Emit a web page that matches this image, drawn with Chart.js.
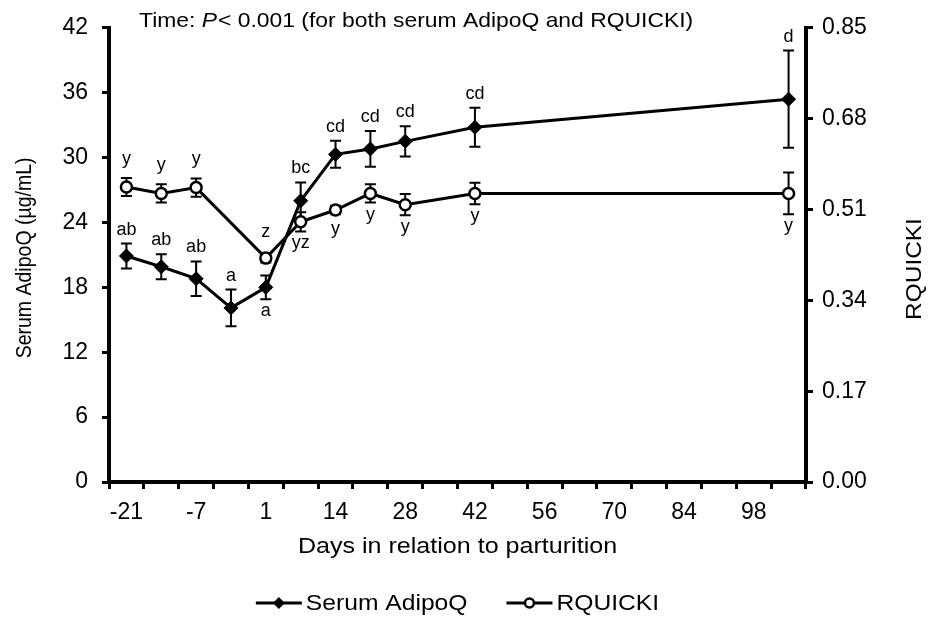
<!DOCTYPE html>
<html>
<head>
<meta charset="utf-8">
<script src="https://cdn.jsdelivr.net/npm/chart.js@4.4.1/dist/chart.umd.min.js"></script>
<style>
  html, body { margin: 0; padding: 0; background: #fff; }
  #wrap { width: 931px; height: 618px; }
</style>
</head>
<body>
<div id="wrap"><canvas id="chart" width="931" height="618"></canvas></div>
<script>
// ----------------- DATA -----------------
// category axis, one slot per week (only every 2nd label is shown)
const dayLabels = ['-21', '-14', '-7', '-3', '1', '7', '14', '21', '28', '35',
                   '42', '49', '56', '63', '70', '77', '84', '91', '98', '105'];

const adipoq      = [20.9, 19.9, 18.8, 16.1, 18.0, 26.0, 30.3, 30.8, 31.5, null,
                     32.8, null, null, null, null, null, null, null, null, 35.4];
const adipoqErr   = [1.15, 1.15, 1.6, 1.7, 1.1, 1.7, 1.25, 1.65, 1.4, null,
                     1.8, null, null, null, null, null, null, null, null, 4.5];
const adipoqLetters = ['ab', 'ab', 'ab', 'a', 'a', 'bc', 'cd', 'cd', 'cd', null,
                       'cd', null, null, null, null, null, null, null, null, 'd'];

const rquicki     = [0.552, 0.540, 0.551, null, 0.419, 0.487, 0.509, 0.540, 0.519, null,
                     0.540, null, null, null, null, null, null, null, null, 0.540];
const rquickiErr  = [0.017, 0.017, 0.017, null, 0.008, 0.018, 0.008, 0.017, 0.020, null,
                     0.020, null, null, null, null, null, null, null, null, 0.039];
const rquickiLetters = ['y', 'y', 'y', null, 'z', 'yz', 'y', 'y', 'y', null,
                        'y', null, null, null, null, null, null, null, null, 'y'];

const adipoqTicks = [0, 6, 12, 18, 24, 30, 36, 42];
const rquickiTicks = [0, 0.17, 0.34, 0.51, 0.68, 0.85];

// which letters go under the point instead of above
const adipoqBelow = [4];
const rquickiBelow = [5, 6, 7, 8, 10, 19];

// ----------------- STYLE -----------------
const FONT = "'Liberation Sans', Arial, sans-serif";
const INK = '#000';
const SX = 1.12; // the original figure is a bit wider than tall, text too

// ----------------- HELPERS -----------------
function stretchText(ctx, text, x, y, sx) {
  ctx.save();
  ctx.translate(x, y);
  ctx.scale(sx, 1);
  ctx.fillText(text, 0, 0);
  ctx.restore();
  return ctx.measureText(text).width * sx;
}

function drawErrorBars(chart, dsIndex, vals, errs) {
  const ctx = chart.ctx;
  const meta = chart.getDatasetMeta(dsIndex);
  const scale = chart.scales[meta.yAxisID];
  ctx.save();
  ctx.strokeStyle = INK;
  ctx.lineWidth = 2;
  meta.data.forEach((pt, i) => {
    if (vals[i] == null || errs[i] == null) return;
    const top = scale.getPixelForValue(vals[i] + errs[i]);
    const bot = scale.getPixelForValue(vals[i] - errs[i]);
    ctx.beginPath();
    ctx.moveTo(pt.x, top); ctx.lineTo(pt.x, bot);
    ctx.moveTo(pt.x - 5.5, top); ctx.lineTo(pt.x + 5.5, top);
    ctx.moveTo(pt.x - 5.5, bot); ctx.lineTo(pt.x + 5.5, bot);
    ctx.stroke();
  });
  ctx.restore();
}

function drawLetters(chart, dsIndex, vals, errs, letters, below, gapAbove) {
  const ctx = chart.ctx;
  const meta = chart.getDatasetMeta(dsIndex);
  const scale = chart.scales[meta.yAxisID];
  ctx.save();
  ctx.fillStyle = INK;
  ctx.font = '18px ' + FONT;
  ctx.textAlign = 'center';
  ctx.textBaseline = 'alphabetic';
  meta.data.forEach((pt, i) => {
    if (!letters[i] || vals[i] == null) return;
    const e = Math.max(Math.abs(scale.getPixelForValue(vals[i] - errs[i]) - pt.y), 7);
    if (below.includes(i)) {
      ctx.fillText(letters[i], pt.x, pt.y + e + 17);
    } else {
      ctx.fillText(letters[i], pt.x, pt.y - e - gapAbove);
    }
  });
  ctx.restore();
}

function drawTitle(ctx) {
  let x = 139;
  const y = 27;
  const sx = 1.09;
  ctx.textAlign = 'left';
  ctx.font = '21px ' + FONT;
  x += stretchText(ctx, 'Time: ', x, y, sx);
  ctx.font = 'italic 21px ' + FONT;
  x += stretchText(ctx, 'P', x, y, sx) + 1;
  ctx.font = '21px ' + FONT;
  stretchText(ctx, '< 0.001 (for both serum AdipoQ and RQUICKI)', x, y, sx);
}

function drawLegend(ctx, cx, y) {
  ctx.font = '22px ' + FONT;
  ctx.textAlign = 'left';
  ctx.textBaseline = 'middle';
  const items = [
    { text: 'Serum AdipoQ', marker: 'diamond' },
    { text: 'RQUICKI', marker: 'circle' }
  ];
  const sample = 46, gap = 4, spacing = 39;
  let total = 0;
  items.forEach((it, i) => {
    total += sample + gap + ctx.measureText(it.text).width * SX + (i ? spacing : 0);
  });
  let x = cx - total / 2;
  items.forEach((it, i) => {
    if (i) x += spacing;
    ctx.strokeStyle = INK;
    ctx.lineWidth = 3;
    ctx.beginPath();
    ctx.moveTo(x, y); ctx.lineTo(x + sample, y);
    ctx.stroke();
    const mx = x + sample / 2;
    if (it.marker === 'diamond') {
      ctx.fillStyle = INK;
      ctx.beginPath();
      ctx.moveTo(mx - 6, y); ctx.lineTo(mx, y - 6);
      ctx.lineTo(mx + 6, y); ctx.lineTo(mx, y + 6);
      ctx.closePath();
      ctx.fill();
    } else {
      ctx.fillStyle = '#fff';
      ctx.lineWidth = 2.5;
      ctx.beginPath();
      ctx.arc(mx, y, 4.5, 0, Math.PI * 2);
      ctx.fill();
      ctx.stroke();
    }
    x += sample + gap;
    ctx.fillStyle = INK;
    x += stretchText(ctx, it.text, x, y + 1, SX);
  });
}

// ----------------- PLUGIN -----------------
const extrasPlugin = {
  id: 'extras',
  beforeDatasetsDraw(chart) {
    drawErrorBars(chart, 0, adipoq, adipoqErr);
    drawErrorBars(chart, 1, rquicki, rquickiErr);
  },
  afterDatasetsDraw(chart) {
    drawLetters(chart, 0, adipoq, adipoqErr, adipoqLetters, adipoqBelow, 9);
    drawLetters(chart, 1, rquicki, rquickiErr, rquickiLetters, rquickiBelow, 14);
  },
  afterDraw(chart) {
    const ctx = chart.ctx;
    const area = chart.chartArea;
    ctx.save();
    ctx.fillStyle = INK;
    ctx.textBaseline = 'alphabetic';
    drawTitle(ctx);

    // x axis title
    ctx.textAlign = 'center';
    ctx.font = '22px ' + FONT;
    stretchText(ctx, 'Days in relation to parturition', (area.left + area.right) / 2, 553, 1.14);

    // left axis title (rotated, so the stretch goes across the glyphs)
    ctx.save();
    ctx.translate(25, (area.top + area.bottom) / 2 + 3);
    ctx.rotate(-Math.PI / 2);
    ctx.scale(1, SX);
    ctx.textBaseline = 'middle';
    ctx.font = '19.5px ' + FONT;
    ctx.fillText('Serum AdipoQ (\u00b5g/mL)', 0, 0);
    ctx.restore();

    // right axis title (reads bottom to top)
    ctx.save();
    ctx.translate(915, 269);
    ctx.rotate(-Math.PI / 2);
    ctx.scale(1.11, 1);
    ctx.textBaseline = 'middle';
    ctx.font = '22px ' + FONT;
    ctx.fillText('RQUICKI', 0, 0);
    ctx.restore();

    drawLegend(ctx, (area.left + area.right) / 2, 603);
    ctx.restore();
  }
};

// ----------------- CHART -----------------
const tickFont = { family: FONT, size: 23 };

new Chart(document.getElementById('chart'), {
  type: 'line',
  data: {
    labels: dayLabels,
    datasets: [
      {
        label: 'Serum AdipoQ',
        data: adipoq,
        yAxisID: 'y',
        borderColor: INK,
        backgroundColor: INK,
        borderWidth: 3,
        pointStyle: 'rectRot',
        pointRadius: 7,
        pointBorderWidth: 1,
        pointBackgroundColor: INK,
        pointBorderColor: INK,
        spanGaps: true,
        tension: 0
      },
      {
        label: 'RQUICKI',
        data: rquicki,
        yAxisID: 'y1',
        borderColor: INK,
        backgroundColor: '#fff',
        borderWidth: 3,
        pointStyle: 'circle',
        pointRadius: 5.5,
        pointBorderWidth: 2.5,
        pointBackgroundColor: '#fff',
        pointBorderColor: INK,
        spanGaps: true,
        tension: 0
      }
    ]
  },
  options: {
    responsive: false,
    animation: false,
    devicePixelRatio: 1,
    layout: { padding: { top: 21, bottom: 86, left: 0, right: 0 } },
    plugins: {
      legend: { display: false },
      tooltip: { enabled: false },
      title: { display: false }
    },
    scales: {
      x: {
        type: 'category',
        offset: true,
        grid: { offset: true, drawOnChartArea: false, drawTicks: true, tickLength: 7, lineWidth: 3, color: INK },
        border: { display: true, width: 4, color: INK },
        ticks: {
          autoSkip: false,
          maxRotation: 0,
          padding: 10,
          color: INK,
          font: tickFont,
          callback: (v, i) => (i % 2 === 0 ? dayLabels[i] : '')
        },
        afterFit(scale) { scale.height = 50; }
      },
      y: {
        position: 'left',
        min: 0,
        max: 42,
        afterBuildTicks(scale) { scale.ticks = adipoqTicks.map(v => ({ value: v })); },
        grid: { drawOnChartArea: false, drawTicks: true, tickLength: 7, lineWidth: 3, color: INK },
        border: { display: true, width: 4, color: INK },
        ticks: { padding: 14, color: INK, font: tickFont },
        afterFit(scale) { scale.width = 109; }
      },
      y1: {
        position: 'right',
        min: 0,
        max: 0.85,
        afterBuildTicks(scale) { scale.ticks = rquickiTicks.map(v => ({ value: v })); },
        grid: { drawOnChartArea: false, drawTicks: true, tickLength: 7, lineWidth: 3, color: INK },
        border: { display: true, width: 4, color: INK },
        ticks: { padding: 9, color: INK, font: tickFont, callback: v => Number(v).toFixed(2) },
        afterFit(scale) { scale.width = 125; }
      }
    }
  },
  plugins: [extrasPlugin]
});
</script>
</body>
</html>
